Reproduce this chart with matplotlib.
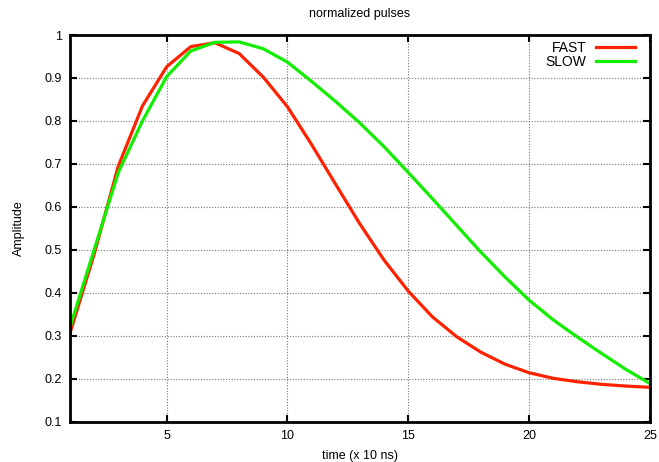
import matplotlib
matplotlib.use('Agg')
import matplotlib.pyplot as plt

plt.rcParams['font.family'] = ['Liberation Sans', 'DejaVu Sans']

# sample times (x 10 ns)
t = list(range(1, 26))
fast = [0.306, 0.49, 0.695, 0.835, 0.926, 0.973, 0.982, 0.957, 0.902, 0.833,
        0.745, 0.652, 0.560, 0.476, 0.404, 0.344, 0.298, 0.262, 0.234, 0.214,
        0.201, 0.193, 0.187, 0.183, 0.180]
slow = [0.32, 0.50, 0.68, 0.80, 0.903, 0.963, 0.983, 0.984, 0.968, 0.937,
        0.892, 0.845, 0.795, 0.740, 0.680, 0.619, 0.557, 0.495, 0.437, 0.383,
        0.337, 0.297, 0.259, 0.222, 0.189]

fig = plt.figure(figsize=(6.59, 4.62), dpi=100)
ax = fig.add_axes([0.1062, 0.0872, 0.880, 0.837])

ax.plot(t, fast, color='#ff2200', lw=2.3, label='FAST')
ax.plot(t, slow, color='#11ee00', lw=2.3, label='SLOW')

ax.set_xlim(1, 25)
ax.set_ylim(0.1, 1.0)
ax.set_xticks([5, 10, 15, 20, 25])
ax.set_yticks([0.1, 0.2, 0.3, 0.4, 0.5, 0.6, 0.7, 0.8, 0.9, 1.0])
ax.set_yticklabels(['0.1', '0.2', '0.3', '0.4', '0.5', '0.6', '0.7', '0.8', '0.9', '1'])
ax.grid(True, color='#777777', linestyle=(0, (1, 1.5)), linewidth=0.8)
ax.tick_params(direction='in', length=5, width=1.5, top=True, right=True,
               labelsize=9, pad=6)
for s in ax.spines.values():
    s.set_linewidth(2)

ax.set_title('normalized pulses', fontsize=9, pad=13)
ax.set_xlabel('time (x 10 ns)', fontsize=9, labelpad=6)
ax.set_ylabel('Amplitude', fontsize=9, labelpad=14)

ax.legend(loc='upper right', bbox_to_anchor=(0.984, 1.0), frameon=False,
          markerfirst=False, fontsize=10, handlelength=2.8, labelspacing=0.0,
          borderaxespad=0, handletextpad=0.7)

fig.savefig('out.png', dpi=100)
